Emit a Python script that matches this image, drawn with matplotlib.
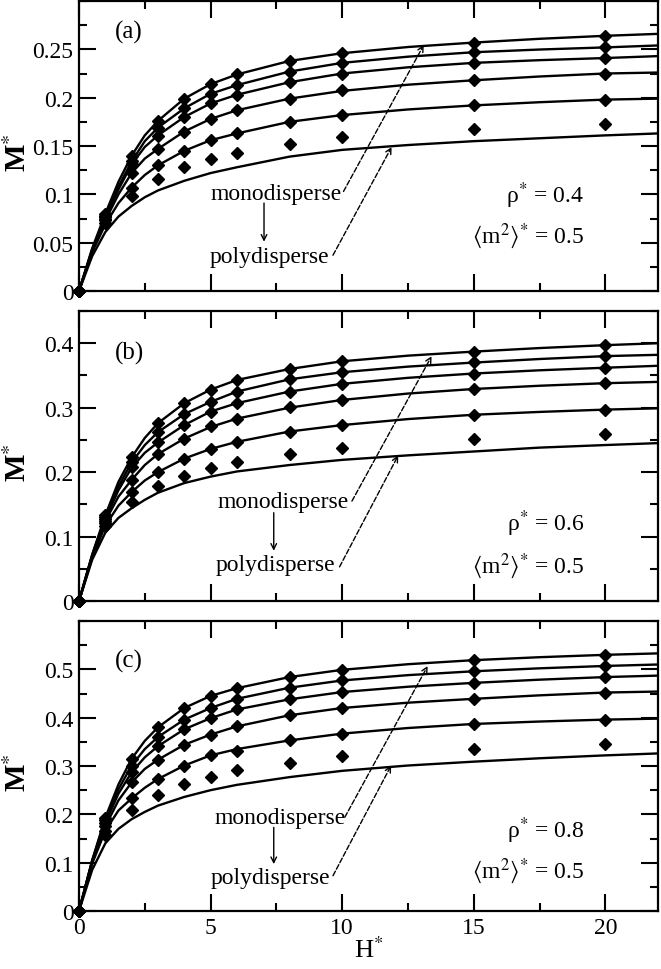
import matplotlib
matplotlib.use("Agg")
import matplotlib.pyplot as plt
from matplotlib.ticker import MultipleLocator, FixedLocator, FuncFormatter

plt.rcParams["font.family"] = ["Liberation Serif", "DejaVu Serif"]
plt.rcParams["mathtext.fontset"] = "stix"

# field values of the theory curves and of the simulation points
H_CURVE = [0, 0.5, 1, 1.5, 2, 2.5, 3, 4, 5, 6, 8, 10, 12.5, 15, 17.5, 20, 22]
H_SIM = [0, 1, 2, 3, 4, 5, 6, 8, 10, 15, 20]

# panel (a): rho* = 0.4
curves_a = [
	[0, 0.044, 0.080, 0.113, 0.140, 0.161, 0.176, 0.199, 0.214, 0.224, 0.238, 0.246, 0.2524, 0.257, 0.2609, 0.264, 0.266],
	[0, 0.043, 0.077, 0.108, 0.134, 0.155, 0.169, 0.189, 0.204, 0.213, 0.227, 0.236, 0.2424, 0.247, 0.2498, 0.252, 0.254],
	[0, 0.042, 0.075, 0.105, 0.131, 0.149, 0.161, 0.180, 0.194, 0.203, 0.216, 0.225, 0.2314, 0.236, 0.2388, 0.241, 0.243],
	[0, 0.041, 0.073, 0.100, 0.122, 0.137, 0.147, 0.165, 0.178, 0.187, 0.199, 0.207, 0.2134, 0.218, 0.2219, 0.225, 0.226],
	[0, 0.040, 0.069, 0.091, 0.107, 0.120, 0.130, 0.145, 0.156, 0.163, 0.175, 0.182, 0.1878, 0.192, 0.1953, 0.198, 0.199],
	[0, 0.036, 0.061, 0.077, 0.088, 0.097, 0.104, 0.114, 0.122, 0.128, 0.139, 0.146, 0.151, 0.155, 0.158, 0.161, 0.163],
]
sims_a = [
	[0, 0.080, 0.140, 0.176, 0.199, 0.214, 0.224, 0.238, 0.246, 0.257, 0.264],
	[0, 0.078, 0.134, 0.169, 0.189, 0.204, 0.213, 0.227, 0.236, 0.247, 0.252],
	[0, 0.077, 0.131, 0.160, 0.180, 0.194, 0.203, 0.216, 0.225, 0.236, 0.241],
	[0, 0.075, 0.122, 0.147, 0.165, 0.178, 0.187, 0.199, 0.208, 0.218, 0.224],
	[0, 0.073, 0.107, 0.130, 0.145, 0.156, 0.163, 0.175, 0.182, 0.192, 0.198],
	[0, 0.070, 0.098, 0.116, 0.128, 0.137, 0.143, 0.152, 0.159, 0.168, 0.173],
]

# panel (b): rho* = 0.6
curves_b = [
	[0, 0.072, 0.133, 0.185, 0.223, 0.253, 0.276, 0.307, 0.328, 0.343, 0.360, 0.372, 0.3807, 0.387, 0.3925, 0.397, 0.400],
	[0, 0.071, 0.130, 0.178, 0.215, 0.242, 0.262, 0.290, 0.309, 0.325, 0.344, 0.355, 0.3637, 0.370, 0.3755, 0.380, 0.382],
	[0, 0.070, 0.127, 0.172, 0.207, 0.230, 0.246, 0.273, 0.294, 0.307, 0.325, 0.337, 0.3463, 0.353, 0.3580, 0.362, 0.365],
	[0, 0.069, 0.124, 0.162, 0.188, 0.211, 0.228, 0.252, 0.270, 0.283, 0.300, 0.312, 0.3219, 0.329, 0.3340, 0.338, 0.340],
	[0, 0.067, 0.117, 0.148, 0.169, 0.187, 0.200, 0.221, 0.236, 0.247, 0.263, 0.273, 0.2823, 0.289, 0.2934, 0.297, 0.299],
	[0, 0.064, 0.106, 0.129, 0.144, 0.157, 0.168, 0.183, 0.193, 0.201, 0.211, 0.219, 0.226, 0.232, 0.238, 0.242, 0.245],
]
sims_b = [
	[0, 0.133, 0.223, 0.276, 0.307, 0.328, 0.343, 0.360, 0.372, 0.387, 0.397],
	[0, 0.130, 0.215, 0.262, 0.290, 0.309, 0.325, 0.344, 0.355, 0.371, 0.380],
	[0, 0.127, 0.208, 0.246, 0.273, 0.294, 0.307, 0.325, 0.337, 0.353, 0.362],
	[0, 0.124, 0.188, 0.228, 0.252, 0.271, 0.283, 0.301, 0.312, 0.329, 0.338],
	[0, 0.121, 0.169, 0.200, 0.221, 0.236, 0.247, 0.263, 0.273, 0.289, 0.297],
	[0, 0.117, 0.154, 0.178, 0.194, 0.207, 0.216, 0.228, 0.238, 0.251, 0.259],
]

# panel (c): rho* = 0.8
curves_c = [
	[0, 0.105, 0.193, 0.262, 0.315, 0.352, 0.380, 0.420, 0.445, 0.461, 0.484, 0.499, 0.5106, 0.519, 0.5251, 0.530, 0.533],
	[0, 0.104, 0.188, 0.252, 0.301, 0.335, 0.360, 0.396, 0.420, 0.439, 0.462, 0.477, 0.4880, 0.496, 0.5021, 0.507, 0.510],
	[0, 0.103, 0.182, 0.243, 0.287, 0.318, 0.341, 0.376, 0.399, 0.417, 0.438, 0.453, 0.4640, 0.472, 0.4786, 0.484, 0.487],
	[0, 0.101, 0.175, 0.229, 0.266, 0.294, 0.313, 0.344, 0.365, 0.382, 0.405, 0.420, 0.4310, 0.439, 0.4462, 0.452, 0.454],
	[0, 0.098, 0.166, 0.208, 0.233, 0.255, 0.273, 0.301, 0.322, 0.335, 0.353, 0.367, 0.3786, 0.387, 0.3920, 0.396, 0.398],
	[0, 0.085, 0.140, 0.170, 0.190, 0.205, 0.218, 0.236, 0.250, 0.261, 0.277, 0.290, 0.301, 0.309, 0.316, 0.322, 0.326],
]
sims_c = [
	[0, 0.193, 0.315, 0.380, 0.420, 0.445, 0.461, 0.484, 0.499, 0.519, 0.530],
	[0, 0.188, 0.301, 0.360, 0.396, 0.420, 0.439, 0.462, 0.477, 0.496, 0.507],
	[0, 0.182, 0.287, 0.341, 0.376, 0.399, 0.417, 0.438, 0.453, 0.472, 0.484],
	[0, 0.175, 0.266, 0.313, 0.344, 0.365, 0.382, 0.405, 0.420, 0.439, 0.452],
	[0, 0.166, 0.233, 0.273, 0.301, 0.322, 0.332, 0.353, 0.367, 0.387, 0.396],
	[0, 0.157, 0.208, 0.241, 0.263, 0.277, 0.291, 0.306, 0.320, 0.335, 0.346],
]

panels = [
	{
		"label": "(a)", "rho": "0.4", "curves": curves_a, "sims": sims_a,
		"ylim": 0.3, "major": 0.05, "ymax_tick": 0.25, "tag_y": 0.268,
		"mono": (7.5, 0.1005), "poly": (7.25, 0.036), "down": (7.03, 0.091, 0.051),
		"dash_up": ((10.05, 0.103), (13.1, 0.2545)),
		"dash_low": ((9.65, 0.037), (11.88, 0.149)),
		"rho_y": 0.100, "m2_y": 0.058,
	},
	{
		"label": "(b)", "rho": "0.6", "curves": curves_b, "sims": sims_b,
		"ylim": 0.45, "major": 0.1, "ymax_tick": 0.4, "tag_y": 0.386,
		"mono": (7.75, 0.154), "poly": (7.45, 0.057), "down": (7.4, 0.137, 0.078),
		"dash_up": ((10.37, 0.155), (13.4, 0.380)),
		"dash_low": ((9.9, 0.053), (12.13, 0.226)),
		"rho_y": 0.121, "m2_y": 0.055,
	},
	{
		"label": "(c)", "rho": "0.8", "curves": curves_c, "sims": sims_c,
		"ylim": 0.6, "major": 0.1, "ymax_tick": 0.5, "tag_y": 0.519,
		"mono": (7.64, 0.1936), "poly": (7.26, 0.069), "down": (7.4, 0.173, 0.097),
		"dash_up": ((10.1, 0.194), (13.25, 0.507)),
		"dash_low": ((9.65, 0.073), (11.86, 0.301)),
		"rho_y": 0.169, "m2_y": 0.085,
	},
]


def tick_fmt(v, pos):
	return f"{v:.2f}".rstrip("0").rstrip(".")


fig = plt.figure(figsize=(6.61, 9.70), dpi=100)
left, width, height = 79 / 661, 579 / 661, 290 / 970
bottoms = [(970 - 292) / 970, (970 - 602) / 970, (970 - 912) / 970]

for i, p in enumerate(panels):
	ax = fig.add_axes([left, bottoms[i], width, height])
	for ys in p["curves"]:
		ax.plot(H_CURVE, ys, color="black", lw=1.7, solid_joinstyle="round", zorder=2)
	for ys in p["sims"]:
		ax.plot(H_SIM, ys, ls="none", marker="D", ms=6.4, color="black", zorder=3, clip_on=False)

	ax.set_xlim(0, 22)
	ax.set_ylim(0, p["ylim"])
	n = int(round(p["ymax_tick"] / p["major"]))
	ax.yaxis.set_major_locator(FixedLocator([k * p["major"] for k in range(n + 1)]))
	ax.yaxis.set_minor_locator(MultipleLocator(p["major"] / 2))
	ax.yaxis.set_major_formatter(FuncFormatter(tick_fmt))
	ax.xaxis.set_major_locator(MultipleLocator(5))
	ax.xaxis.set_minor_locator(MultipleLocator(2.5))
	ax.tick_params(which="both", direction="in", top=True, right=True, width=1.5,
		labelsize=17, pad=4)
	ax.tick_params(which="major", length=12)
	ax.tick_params(which="minor", length=6)
	for sp in ax.spines.values():
		sp.set_linewidth(1.6)
	if i < 2:
		ax.tick_params(labelbottom=False)
	else:
		ax.set_xlabel(r"H$^{*}$", fontsize=19, labelpad=-1)
	ax.set_ylabel(r"M$^{*}$", fontsize=21, fontweight="bold")
	ax.yaxis.set_label_coords(-0.081, 0.48)

	ax.text(1.9, p["tag_y"], p["label"], fontsize=18, ha="center", va="center")
	ax.text(*p["mono"], "monodisperse", fontsize=17, ha="center", va="center")
	ax.text(*p["poly"], "polydisperse", fontsize=17, ha="center", va="center")
	dx, y0, y1 = p["down"]
	ax.annotate("", xy=(dx, y1), xytext=(dx, y0),
		arrowprops=dict(arrowstyle="->", lw=1.0, color="black", shrinkA=0, shrinkB=0))
	for start, end in (p["dash_up"], p["dash_low"]):
		ax.annotate("", xy=end, xytext=start,
			arrowprops=dict(arrowstyle="->", lw=1.0, ls="--", color="black",
				shrinkA=0, shrinkB=0))
	ax.text(19.2, p["rho_y"], "ρ$^{*}$ = " + p["rho"], fontsize=17, ha="right", va="center")
	ax.text(19.2, p["m2_y"], r"$\langle$m$^{2}\rangle^{*}$ = 0.5", fontsize=17,
		ha="right", va="center")

fig.savefig("out.png", dpi=100)
